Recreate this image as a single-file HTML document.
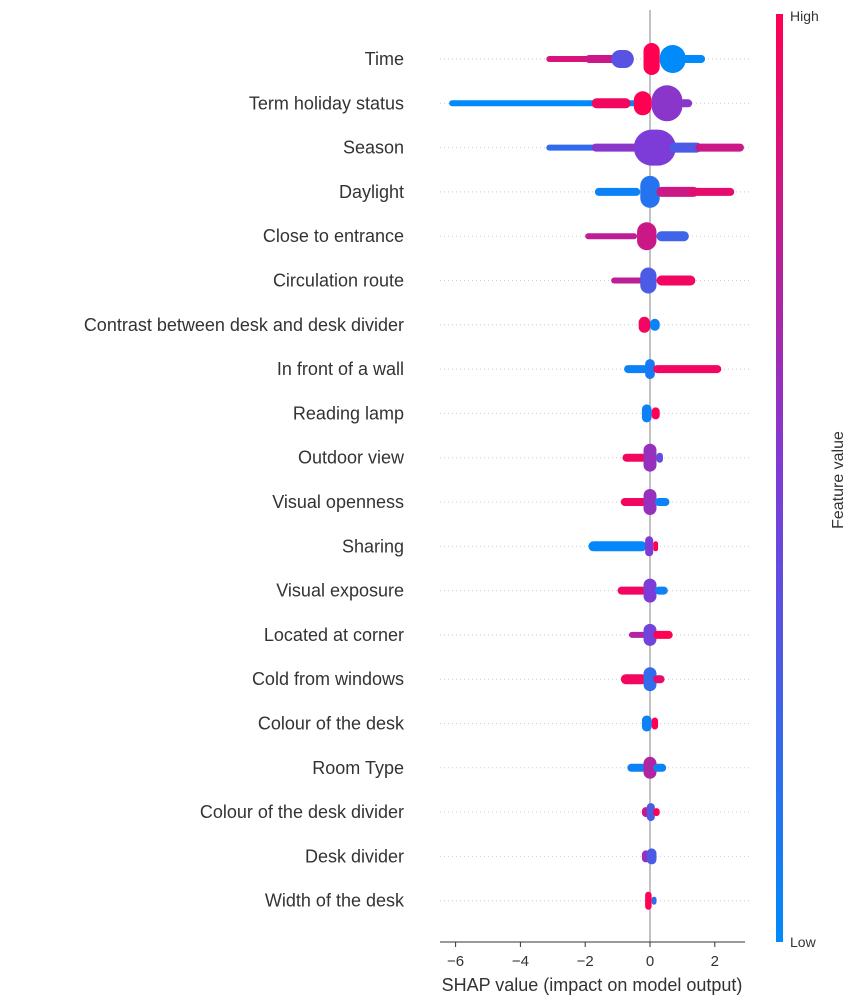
<!DOCTYPE html>
<html><head><meta charset="utf-8"><style>
body{margin:0;background:#fff;}
svg{display:block;font-family:"Liberation Sans","DejaVu Sans",sans-serif;}
</style></head><body>
<svg id="chart" width="851" height="1005" viewBox="0 0 851 1005">
<defs><linearGradient id="cb" x1="0" y1="1" x2="0" y2="0">
<stop offset="0" stop-color="rgb(0,138,250)"/><stop offset="0.5" stop-color="rgb(125,60,215)"/><stop offset="1" stop-color="rgb(255,0,82)"/></linearGradient></defs>
<g id="grid"></g><g id="marks"></g><g id="labels"></g><g id="axis"></g>
<rect x="776" y="14" width="7" height="928" fill="url(#cb)"/>
<text x="790" y="21" font-size="14" fill="#333">High</text>
<text x="790" y="947" font-size="14" fill="#333">Low</text>
<text transform="translate(843,480) rotate(-90)" text-anchor="middle" font-size="16" fill="#333">Feature value</text>
<text x="592" y="991" text-anchor="middle" font-size="18" fill="#333">SHAP value (impact on model output)</text>
</svg>
<script>
const features=["Time","Term holiday status","Season","Daylight","Close to entrance","Circulation route ","Contrast between desk and desk divider","In front of a wall ","Reading lamp","Outdoor view","Visual openness","Sharing","Visual exposure","Located at corner ","Cold from windows","Colour of the desk","Room Type","Colour of the desk divider","Desk divider ","Width of the desk "];
const xTicks=[-6,-4,-2,0,2];
// segments per feature: [shapFrom, shapTo, featureValue(0 low..1 high), halfThickness]
const seg0=[[-3.2,-1.2,0.85,3],[-2,-0.5,0.8,4],[-1.2,-0.5,0.35,9],[-0.2,0.3,1,16],[0.3,1.1,0,14],[0.9,1.7,0,4]];
const seg1=[[-6.2,-0.3,0,3],[-1.8,-0.6,0.95,5],[-0.5,0.05,1,12],[0.05,1.0,0.55,18],[0.9,1.3,0.55,4]];
const seg2=[[-3.2,-1.5,0.2,3],[-1.8,-0.3,0.55,4],[-0.5,0.8,0.5,18],[0.6,1.6,0.3,5],[1.4,2.9,0.8,4]];
const seg3=[[-1.7,-0.3,0.05,4],[-0.3,0.3,0.15,16],[0.2,1.5,0.8,5],[1.2,2.6,0.9,4]];
const seg4=[[-2,-0.4,0.75,3],[-0.4,0.2,0.8,14],[0.2,1.2,0.25,5]];
const seg5=[[-1.2,-0.2,0.75,3],[-0.3,0.2,0.3,13],[0.2,1.4,0.95,5]];
const seg6=[[-0.35,0,0.95,8],[0,0.3,0.05,6]];
const seg7=[[-0.8,-0.05,0.05,4],[-0.15,0.15,0.1,10],[0.1,2.2,0.95,4]];
const seg8=[[-0.25,0.05,0.05,9],[0.05,0.3,1,6]];
const seg9=[[-0.85,-0.1,0.95,4],[-0.2,0.2,0.6,14],[0.2,0.4,0.4,5]];
const seg10=[[-0.9,-0.1,0.95,4],[-0.2,0.2,0.6,13],[0.15,0.6,0.05,4]];
const seg11=[[-1.9,-0.1,0.02,5],[-0.15,0.1,0.5,10],[0.1,0.25,1,5]];
const seg12=[[-1,-0.1,0.95,4],[-0.2,0.2,0.5,12],[0.15,0.55,0.05,4]];
const seg13=[[-0.65,-0.1,0.7,3],[-0.2,0.2,0.45,11],[0.1,0.7,1,4]];
const seg14=[[-0.9,-0.1,0.95,5],[-0.2,0.2,0.2,12],[0.1,0.45,0.9,4]];
const seg15=[[-0.25,0.05,0.05,8],[0.05,0.25,1,6]];
const seg16=[[-0.7,-0.1,0.05,4],[-0.2,0.2,0.7,11],[0.1,0.5,0.05,4]];
const seg17=[[-0.25,0,0.8,5],[-0.1,0.15,0.3,9],[0.1,0.3,1,4]];
const seg18=[[-0.25,0,0.6,6],[-0.1,0.2,0.3,8]];
const seg19=[[-0.15,0.05,1,9],[0.05,0.2,0.2,4]];
const segments=[seg0,seg1,seg2,seg3,seg4,seg5,seg6,seg7,seg8,seg9,seg10,seg11,seg12,seg13,seg14,seg15,seg16,seg17,seg18,seg19];

const NS="http://www.w3.org/2000/svg";
const X0=650,PX=32.4,Y0=59,DY=44.3;
const xs=v=>X0+v*PX, ys=i=>Y0+i*DY;
function col(t){const a=[0,138,250],m=[125,60,215],b=[255,0,82];let p,q,u;if(t<0.5){p=a;q=m;u=t/0.5}else{p=m;q=b;u=(t-0.5)/0.5}return `rgb(${p.map((c,k)=>Math.round(c+(q[k]-c)*u)).join(',')})`;}
function mk(tag,attrs,parent){const e=document.createElementNS(NS,tag);for(const k in attrs)e.setAttribute(k,attrs[k]);parent.appendChild(e);return e;}
const G=document.getElementById('grid'),M=document.getElementById('marks'),L=document.getElementById('labels'),A=document.getElementById('axis');
features.forEach((f,i)=>{
 const y=ys(i);
 const g=mk('line',{x1:440,x2:750,y1:y,y2:y,stroke:'#ccc','stroke-width':1,'stroke-dasharray':'1 3'},G);
 
 
 const t=mk('text',{x:404,y:y+6,'text-anchor':'end','font-size':18,fill:'#333'},L);
 t.textContent=f;
 
 
 segments[i].forEach(s=>{
  const x1=xs(s[0]),x2=xs(s[1]),h=s[3];
  const r=mk('rect',{x:x1,y:y-h,width:Math.max(2,x2-x1),height:2*h,rx:Math.min(h,(x2-x1)/2),fill:col(s[2])},M);
  
  
 });
});
const zl=mk('line',{x1:X0,x2:X0,y1:10,y2:942,stroke:'#999','stroke-width':1.2},G);


const ax=mk('line',{x1:440,x2:745,y1:942,y2:942,stroke:'#333','stroke-width':1},A);


xTicks.forEach(v=>{
 const tk=mk('line',{x1:xs(v),x2:xs(v),y1:942,y2:947,stroke:'#333'},A);
 
 
 const tl=mk('text',{x:xs(v),y:966,'text-anchor':'middle','font-size':15,fill:'#333'},A);
 tl.textContent=v<0?'\u2212'+(-v):String(v);
 
 
});
</script>
</body></html>
